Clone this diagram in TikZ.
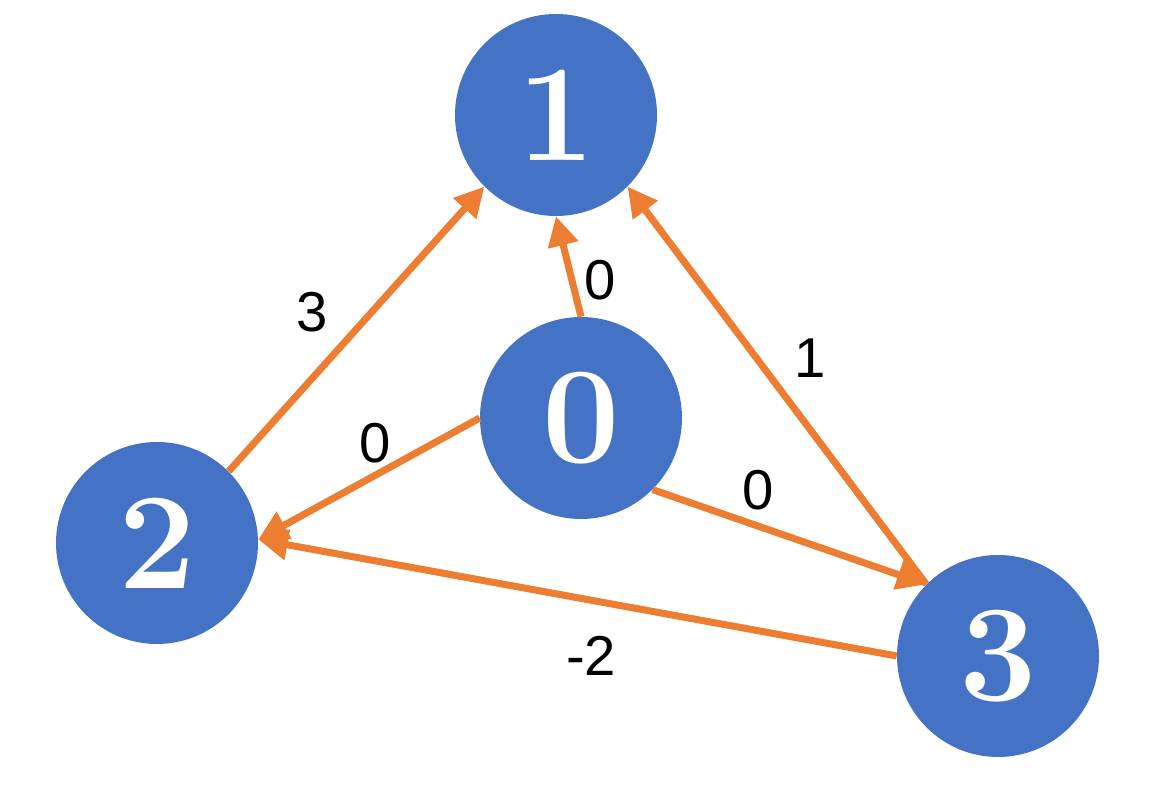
\documentclass[tikz,border=0pt]{standalone}
\usepackage{fontspec}
\setsansfont{Liberation Sans}
\usepackage{xcolor}
\usetikzlibrary{arrows.meta}

\definecolor{nodeblue}{HTML}{4472C4}
\definecolor{edgeorange}{HTML}{ED7D31}

\begin{document}
\begin{tikzpicture}[
    >={Triangle[length=21pt,width=21pt]},
    vertex/.style={circle, fill=nodeblue, minimum size=5.05cm, inner sep=0pt,
                   text=white, font=\rmfamily\bfseries\fontsize{98}{98}\selectfont},
    arr/.style={->, line width=5pt, draw=edgeorange},
    lbl/.style={font=\sffamily\fontsize{40}{40}\selectfont, inner sep=0pt}
]
\useasboundingbox (0,0) rectangle (29,19.9);

% ---- Nodes (absolute positions, cm) ----
\node[vertex] (n1) at (13.9,17.025) {1};
\node[vertex] (n0) at (14.525,9.45) {0};
\node[vertex] (n2) at (3.925,6.325) {2};
\node[vertex] (n3) at (24.95,3.5)   {3};

% ---- Edges ----
\draw[arr] (n2.north east) -- (n1.south west);
\draw[arr] (n0.north) -- (n1.south);
\draw[arr] (n3.north west) -- (n1.south east);
\draw[arr] (n0.west) -- (n2.2);
\draw[arr] (n0.south east) -- (n3.north west);
\draw[arr] (n3.west) -- (n2.2);

% ---- Weights ----
\node[lbl] (w21) at (7.8,12.1)    {3};
\node[lbl] (w01) at (15.0,12.9)   {0};
\node[lbl] (w31) at (20.25,10.95) {1};
\node[lbl] (w02) at (9.375,8.825) {0};
\node[lbl] (w03) at (18.95,7.65)  {0};
\node[lbl] (w32) at (14.775,3.5)  {-2};

\end{tikzpicture}
\end{document}
